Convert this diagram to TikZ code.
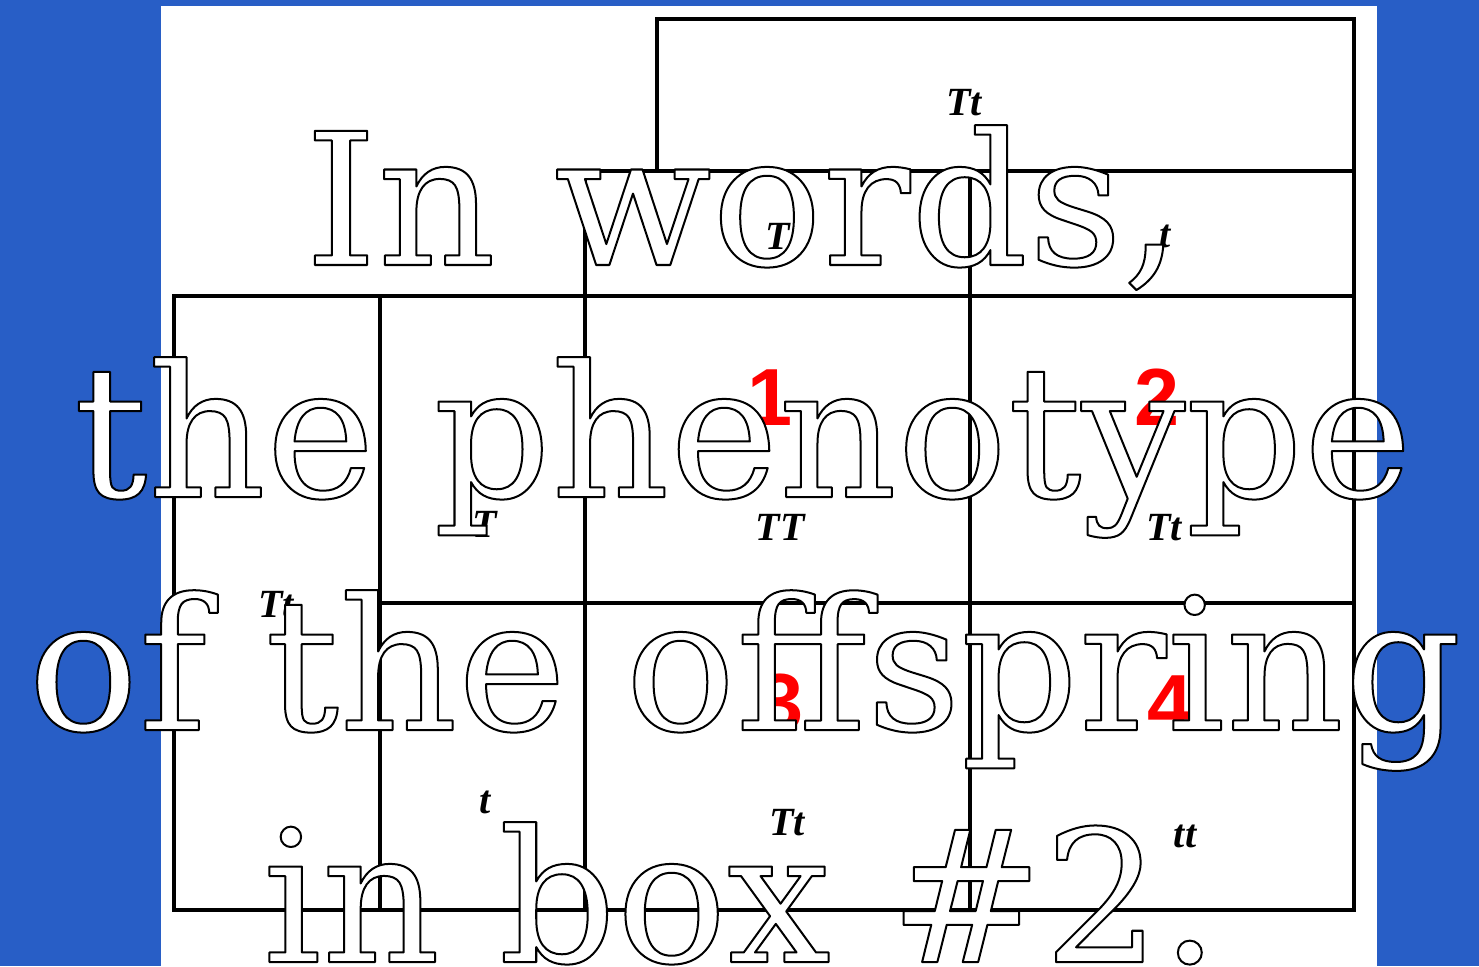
\documentclass[tikz,border=0pt]{standalone}
\usepackage{fontspec}
\setmainfont{Liberation Serif}
\newfontfamily\bigserif{DejaVu Serif}
\newfontfamily\digitfont{Liberation Sans}
\definecolor{slideblue}{HTML}{285EC6}
\definecolor{numred}{HTML}{FF0000}
\newcommand{\outlinetext}[1]{\special{pdf:literal direct 0 G 2 w 1 j 2 Tr}#1\special{pdf:literal direct 0 Tr}}
\begin{document}
\begin{tikzpicture}[x=1pt,y=-1pt,
  cell/.style={draw=black, line width=3.2pt},
  allele/.style={anchor=base, inner sep=0pt, font=\fontsize{40}{48}\selectfont\bfseries\itshape},
  boxnum/.style={anchor=base, inner sep=0pt, text=numred, font=\digitfont\bfseries\fontsize{81}{90}\selectfont},
  bigline/.style={anchor=base, inner sep=0pt, text=white, font=\bigserif\fontsize{184}{230}\selectfont}]
\useasboundingbox (0,0) rectangle (1479,966);
\clip (0,0) rectangle (1479,966);
\fill[slideblue] (0,0) rectangle (1479,966);
\fill[white] (161,6) rectangle (1377,966);
% Punnett square
\draw[cell] (657,19) rectangle (1354,171);
\draw[cell] (585,171) rectangle (970,296);
\draw[cell] (970,171) rectangle (1354,296);
\draw[cell] (174,296) rectangle (380,910);
\draw[cell] (380,296) rectangle (585,603);
\draw[cell] (380,603) rectangle (585,910);
\draw[cell] (585,296) rectangle (970,603);
\draw[cell] (970,296) rectangle (1354,603);
\draw[cell] (585,603) rectangle (970,910);
\draw[cell] (970,603) rectangle (1354,910);
% allele labels
\node[allele] (p1) at (964,115) {Tt};
\node[allele] (gT) at (778,249) {T};
\node[allele] (gt) at (1165,247) {t};
\node[allele] (p2) at (276,617) {Tt};
\node[allele] (hT) at (485,537) {T};
\node[allele] (ht) at (485,813) {t};
\node[allele] (c1) at (780,540) {TT};
\node[allele] (c2) at (1164,540) {Tt};
\node[allele] (c3) at (787,835) {Tt};
\node[allele] (c4) at (1185,847) {tt};
% box numbers
\node[boxnum] (n1) at (770,425) {1};
\node[boxnum] (n2) at (1157,425) {2};
\node[boxnum] (n3) at (781,730) {3};
\node[boxnum] (n4) at (1170,731) {4};
% big outlined text
\node[bigline] (l1) at (743,265) {\outlinetext{In words,}};
\node[bigline] (l2) at (743,497) {\outlinetext{the phenotype}};
\node[bigline] (l3) at (745,730) {\outlinetext{of the offspring}};
\node[bigline] (l4) at (741,962) {\outlinetext{in box \#2.}};
\end{tikzpicture}
\end{document}
